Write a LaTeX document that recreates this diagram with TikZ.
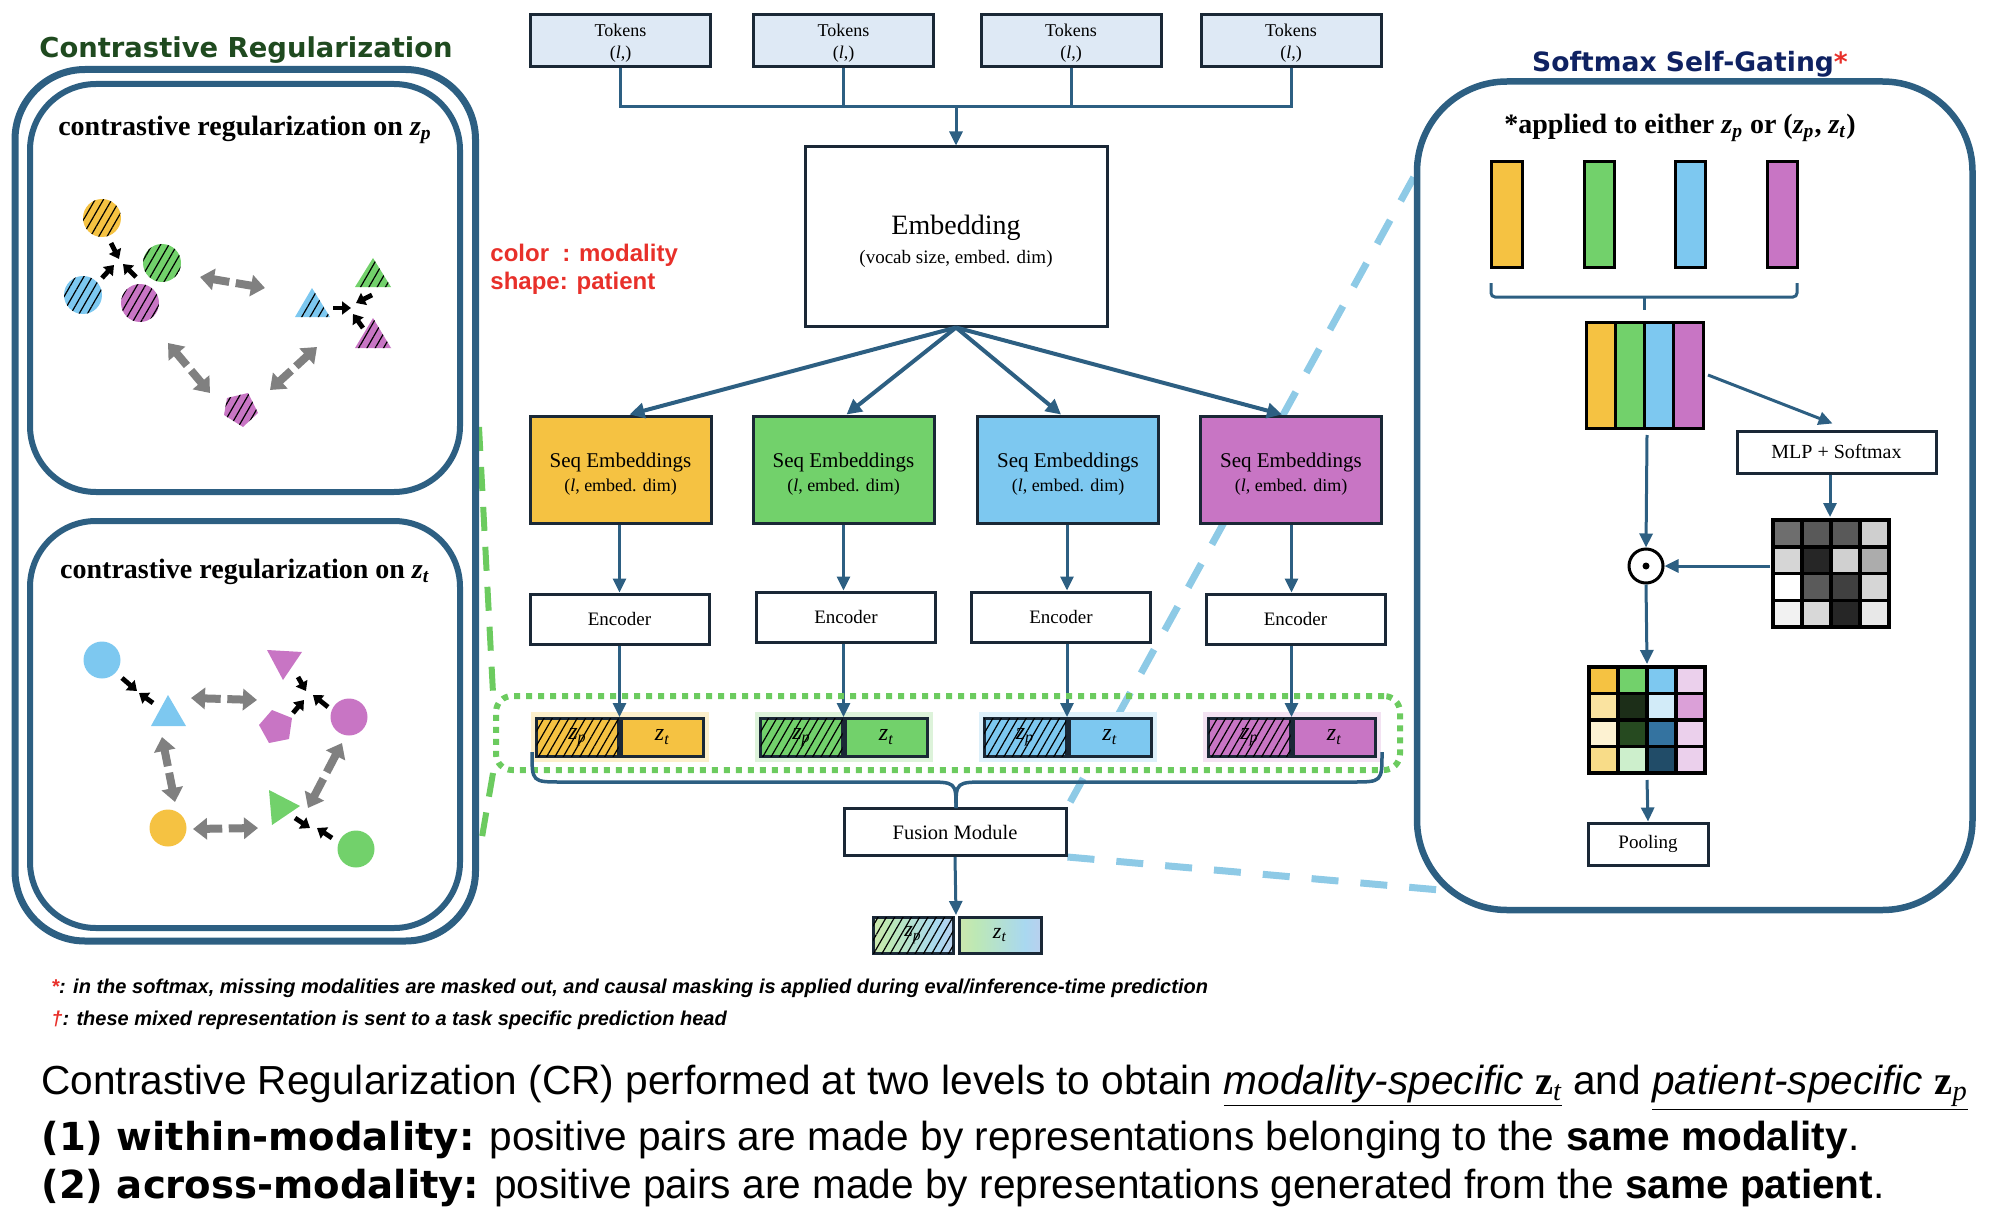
\documentclass[tikz,border=0pt]{standalone}
\usepackage{fontspec}
\usepackage{graphicx}
\setmainfont{Liberation Serif}
\newfontfamily\arialf{Liberation Sans}
\newfontfamily\dejavu{DejaVu Sans}
\usetikzlibrary{arrows.meta,patterns.meta,calc}
\definecolor{cOr}{HTML}{F5C242}
\definecolor{cGr}{HTML}{72D16B}
\definecolor{cBl}{HTML}{7DC8F0}
\definecolor{cPu}{HTML}{C875C4}
\definecolor{lineblue}{HTML}{2D5F82}
\definecolor{boxdark}{HTML}{1A2836}
\definecolor{tokfill}{HTML}{DEE9F5}
\definecolor{titlegreen}{HTML}{1F4A1F}
\definecolor{titlenavy}{HTML}{0F2262}
\definecolor{redlab}{HTML}{E8302A}
\definecolor{dashblue}{HTML}{8ECAE6}
\definecolor{dashgreen}{HTML}{6CCB5F}
\definecolor{arrgray}{HTML}{808080}
\definecolor{haloOr}{HTML}{FCEFCB}
\definecolor{haloGr}{HTML}{DDF3DA}
\definecolor{haloBl}{HTML}{DDF0FA}
\definecolor{haloPu}{HTML}{F3E2F2}
\definecolor{pY}{HTML}{F2E39A}
\definecolor{pG}{HTML}{BDE8B5}
\definecolor{pB}{HTML}{A9D8F0}
\definecolor{pP}{HTML}{E2BCE8}
\pgfdeclarehorizontalshading{rainbowS}{100bp}{color(0bp)=(pY); color(35bp)=(pG); color(65bp)=(pB); color(100bp)=(pP)}
\pgfdeclarelayer{bg}
\pgfsetlayers{bg,main}
\newcommand{\zsub}[1]{\textit{z}\textsubscript{\textit{#1}}}
\newcommand{\heavy}[1]{{\dejavu\bfseries\fontsize{19.3}{20}\selectfont #1}}
\newcommand{\zbold}[1]{{\rmfamily\bfseries z}\textsubscript{\rmfamily\itshape #1}}
\begin{document}
\begin{tikzpicture}[x=0.5pt,y=-0.5pt,
  lb/.style={draw=lineblue, line width=1.5pt},
  arr/.style={lb, -{Triangle[length=7pt,width=6.5pt]}},
  barr/.style={draw=lineblue, line width=2pt, -{Triangle[length=7.5pt,width=7.5pt]}},
  kar/.style={draw=black, line width=2.4pt, -{Triangle[length=4.5pt,width=6.5pt]}},
  gar/.style={draw=arrgray, line width=4pt, -{Triangle[length=7pt,width=10.5pt]}},
  hatch/.style={postaction={pattern={Lines[angle=60,distance=3.6pt,line width=0.6pt]}, pattern color=black}},
  plainbox/.style={draw=boxdark, line width=1.5pt, fill=white, inner sep=0pt, align=center},
  tokbox/.style={plainbox, fill=tokfill, minimum width=90pt, minimum height=26pt, font=\fontsize{9}{11}\selectfont},
  seqbox/.style={plainbox, minimum width=90.5pt, minimum height=53.5pt, font=\fontsize{10.5}{12}\selectfont},
  encbox/.style={plainbox, minimum width=89.5pt, minimum height=25pt, font=\fontsize{9.5}{11}\selectfont},
  zbox/.style={draw=boxdark, line width=1.5pt, minimum width=41pt, minimum height=19pt, inner sep=0pt, font=\fontsize{12}{12}\selectfont},
  bar/.style={draw=black, line width=1.5pt},
  panelbox/.style={draw=lineblue, inner sep=0pt}
]
\useasboundingbox (0,0) rectangle (1996,1214);

% ================= LEFT PANEL =================
\node[font=\dejavu\bfseries\fontsize{13.7}{13.7}\selectfont, text=titlegreen] (crtitle) at (246,50) {Contrastive Regularization};
\node[panelbox, line width=3.5pt, rounded corners=35pt, minimum width=230.25pt, minimum height=435.75pt] (louter) at (245.25,505.25) {};
\node[panelbox, line width=3pt, rounded corners=33pt, minimum width=215pt, minimum height=204pt] (lin1) at (245,288) {};
\node[panelbox, line width=3pt, rounded corners=33pt, minimum width=215pt, minimum height=203.5pt] (lin2) at (245,724.5) {};
\node[font=\bfseries\fontsize{14}{14}\selectfont] (h1) at (245,130) {contrastive regularization on \zsub{p}};
\node[font=\bfseries\fontsize{14}{14}\selectfont] (h2) at (245,572) {contrastive regularization on \zsub{t}};

% panel 1 shapes (hatched)
\fill[cOr, hatch] (102,218) circle (19);
\fill[cGr, hatch] (162,263) circle (19);
\fill[cBl, hatch] (83,295) circle (19);
\fill[cPu, hatch] (140,303) circle (19);
\fill[cBl, hatch] (295,317) -- (330,317) -- (312,288) -- cycle;
\fill[cGr, hatch] (355,287) -- (391,287) -- (373,258) -- cycle;
\fill[cPu, hatch] (355,348) -- (391,348) -- (373,318) -- cycle;
\fill[cPu, hatch] (227,398) -- (248,393) -- (258,413) -- (243,427) -- (224,415) -- cycle;
\draw[kar] (111,243) -- (119,259);
\draw[kar] (102,278) -- (114,265);
\draw[kar] (136,277) -- (123,264);
\draw[kar] (333,308) -- (351,308);
\draw[kar] (372,295) -- (356,303);
\draw[kar] (363,328) -- (353,314);
\newcommand{\gdbl}[2]{\draw[gar] ($(#1)!0.45!(#2)$) -- (#1); \draw[gar] ($(#1)!0.55!(#2)$) -- (#2);}
\gdbl{200,277}{265,288}
\gdbl{168,343}{210,393}
\gdbl{270,390}{317,347}

% panel 2 shapes
\fill[cBl] (102,660) circle (18.5);
\fill[cBl] (168,695) -- (151,726) -- (186,726) -- cycle;
\fill[cPu] (267,650) -- (302,652) -- (283,680) -- cycle;
\fill[cPu] (272,710) -- (292,718) -- (289,739) -- (269,743) -- (259,725) -- cycle;
\fill[cPu] (349,717) circle (18.5);
\fill[cOr] (168,828) circle (18.5);
\fill[cGr] (269,790) -- (272,825) -- (300,806) -- cycle;
\fill[cGr] (356,849) circle (18.5);
\draw[kar] (122,678) -- (137,691);
\draw[kar] (153,703) -- (139,693);
\draw[kar] (298,677) -- (306,691);
\draw[kar] (293,713) -- (304,700);
\draw[kar] (328,707) -- (313,695);
\draw[kar] (295,818) -- (310,828);
\draw[kar] (332,838) -- (317,828);
\gdbl{191,698}{257,700}
\gdbl{162,737}{175,802}
\gdbl{193,829}{258,828}
\gdbl{342,743}{308,808}

% red legend
\node[anchor=base west, inner sep=0pt, font=\arialf\bfseries\fontsize{12}{12}\selectfont, text=redlab] (leg1) at (490,262) {color\hspace{0.55em}: modality};
\node[anchor=base west, inner sep=0pt, font=\arialf\bfseries\fontsize{12}{12}\selectfont, text=redlab] (leg2) at (490,290) {shape: patient};

% ================= CENTER =================
\node[tokbox] (tok1) at (620.5,40.5) {\rule{0pt}{8.6pt}Tokens\\(\textit{l},)};
\node[tokbox] (tok2) at (843.5,40.5) {\rule{0pt}{8.6pt}Tokens\\(\textit{l},)};
\node[tokbox] (tok3) at (1071,40.5) {\rule{0pt}{8.6pt}Tokens\\(\textit{l},)};
\node[tokbox] (tok4) at (1291,40.5) {\rule{0pt}{8.6pt}Tokens\\(\textit{l},)};
\coordinate (jn) at (956,107);
\node[plainbox, minimum width=151pt, minimum height=89.5pt, font=\fontsize{14}{14.5}\selectfont] (emb) at (956,236.5) {\rule{0pt}{14.5pt}Embedding\\{\fontsize{9.5}{14.5}\selectfont (vocab size, embed. dim)}};
\foreach \t in {tok1,tok2,tok3,tok4} \draw[lb] (\t.south) |- (jn);
\draw[arr] (jn) -- (emb.north);

\node[seqbox, fill=cOr] (seq1) at (620.5,469.5) {\rule{0pt}{12pt}Seq Embeddings\\{\fontsize{9}{12}\selectfont (\textit{l}, embed. dim)}};
\node[seqbox, fill=cGr] (seq2) at (843.5,469.5) {\rule{0pt}{12pt}Seq Embeddings\\{\fontsize{9}{12}\selectfont (\textit{l}, embed. dim)}};
\node[seqbox, fill=cBl] (seq3) at (1068,469.5) {\rule{0pt}{12pt}Seq Embeddings\\{\fontsize{9}{12}\selectfont (\textit{l}, embed. dim)}};
\node[seqbox, fill=cPu] (seq4) at (1291,469.5) {\rule{0pt}{12pt}Seq Embeddings\\{\fontsize{9}{12}\selectfont (\textit{l}, embed. dim)}};
\draw[barr] (emb.south) -- ($(seq1.north)+(9,0)$);
\draw[barr] (emb.south) -- ($(seq2.north)+(3,0)$);
\draw[barr] (emb.south) -- ($(seq3.north)+(-7,0)$);
\draw[barr] (emb.south) -- ($(seq4.north)+(-9,0)$);

\node[encbox] (enc1) at (619.5,619) {Encoder};
\node[encbox] (enc2) at (846,617) {Encoder};
\node[encbox] (enc3) at (1061,617) {Encoder};
\node[encbox] (enc4) at (1295.5,619) {Encoder};

\coordinate (zj1) at (619.5,717);
\coordinate (zj2) at (843.5,717);
\coordinate (zj3) at (1067,717);
\coordinate (zj4) at (1291.5,717);

% halos
\fill[haloOr] (531,712) rectangle (709,762);
\fill[haloGr] (755,712) rectangle (933,762);
\fill[haloBl] (979,712) rectangle (1157,762);
\fill[haloPu] (1203,712) rectangle (1381,762);

\node[zbox, fill=cOr, hatch] (zp1) at (577.5,737) {\zsub{p}};
\node[zbox, fill=cOr] (zt1) at (662.5,737) {\zsub{t}};
\node[zbox, fill=cGr, hatch] (zp2) at (801.5,737) {\zsub{p}};
\node[zbox, fill=cGr] (zt2) at (886.5,737) {\zsub{t}};
\node[zbox, fill=cBl, hatch] (zp3) at (1025,737) {\zsub{p}};
\node[zbox, fill=cBl] (zt3) at (1110,737) {\zsub{t}};
\node[zbox, fill=cPu, hatch] (zp4) at (1249.5,737) {\zsub{p}};
\node[zbox, fill=cPu] (zt4) at (1334.5,737) {\zsub{t}};

\foreach \i in {1,2,3,4} {
  \draw[arr] (seq\i.south -| zj\i) -- (enc\i.north -| zj\i);
  \draw[arr] (enc\i.south -| zj\i) -- (zj\i);
}

\node[draw=dashgreen, line width=3pt, dash pattern=on 3pt off 3pt, rounded corners=8pt, minimum width=452pt, minimum height=37pt, inner sep=0pt] (zgroup) at (948,733) {};

\node[plainbox, minimum width=111pt, minimum height=23.5pt, font=\fontsize{10.25}{12}\selectfont] (fus) at (955,832) {Fusion Module};
\draw[draw=lineblue, line width=1.75pt] (532,752) .. controls (532,782) .. (562,782) -- (924,782) .. controls (956,782) .. (956,808);
\draw[draw=lineblue, line width=1.75pt] (1382,752) .. controls (1382,782) .. (1352,782) -- (988,782) .. controls (956,782) .. (956,808);

\node[zbox, shading=rainbowS, hatch, minimum width=40pt, minimum height=18pt, font=\fontsize{11}{11}\selectfont] (zpf) at (913,935) {\zsub{p}};
\node[zbox, shading=rainbowS, minimum width=41pt, minimum height=18pt, font=\fontsize{11}{11}\selectfont] (ztf) at (1000,935) {\zsub{t}};
\coordinate (fj) at (956,915);
\draw[arr] (fus.south) -- (fj);

% ================= RIGHT PANEL =================
\node[font=\dejavu\bfseries\fontsize{13.3}{13.3}\selectfont, text=titlenavy] (sgtitle) at (1690,64) {Softmax Self-Gating\textcolor{redlab}{*}};
\node[panelbox, line width=3.25pt, rounded corners=45pt, minimum width=277.75pt, minimum height=414.25pt] (rbox) at (1694.75,495.75) {};
\node[font=\bfseries\fontsize{14}{14}\selectfont] (h3) at (1680,128) {*applied to either \zsub{p} or (\zsub{p}, \zsub{t})};

\filldraw[bar, fill=cOr] (1491,162) rectangle (1522,268);
\filldraw[bar, fill=cGr] (1584,162) rectangle (1614,268);
\filldraw[bar, fill=cBl] (1675,162) rectangle (1705,268);
\filldraw[bar, fill=cPu] (1767,162) rectangle (1797,268);
\draw[lb, rounded corners=2pt] (1491,283) -- (1491,297) -- (1797,297) -- (1797,283);
\draw[lb] (1644,297) -- (1644,310);

\filldraw[bar, fill=cOr] (1586,322) rectangle (1615.25,428);
\filldraw[bar, fill=cGr] (1615.25,322) rectangle (1644.5,428);
\filldraw[bar, fill=cBl] (1644.5,322) rectangle (1673.75,428);
\filldraw[bar, fill=cPu] (1673.75,322) rectangle (1703,428);
\coordinate (stk) at (1647,435);
\coordinate (stkr) at (1708,375);

\node[plainbox, minimum width=99.5pt, minimum height=21pt, font=\fontsize{10}{12}\selectfont] (mlp) at (1836.5,452) {MLP + Softmax};
\draw[arr] (stkr) -- ($(mlp.north)+(-4,-6)$);

\node[circle, draw=black, line width=1.5pt, minimum size=17pt, inner sep=0pt] (odot) at (1646,566) {};
\fill (odot.center) circle (3.5);
\draw[arr] (stk) -- (odot.north);

% gray matrix
\foreach \c [count=\k from 0] in {6E6E6E,595959,595959,CFCFCF,D6D6D6,262626,D0D0D0,ACACAC,FFFFFF,5A5A5A,404040,D6D6D6,F2F2F2,D8D8D8,262626,E8E8E8} {
  \pgfmathtruncatemacro{\ri}{\k/4}
  \pgfmathtruncatemacro{\ci}{mod(\k,4)}
  \definecolor{tmpc}{HTML}{\c}
  \filldraw[fill=tmpc, draw=black, line width=1.75pt] (1773+29*\ci,520+26.75*\ri) rectangle ++(29,26.75);
}
\coordinate (gm) at (1770,566);
\coordinate (gmtop) at (1830,517);
\draw[arr] (mlp.south -| gmtop) -- (gmtop);
\draw[arr] (gm) -- (odot.east);

% colored matrix
\foreach \c [count=\k from 0] in {F5C242,72D16B,7DC8F0,EBD0EC,FAE3A0,1C2E18,D2EBF8,DBA0D8,FDF2D2,264A20,3473A0,EBD0EC,F8DC88,CDEFCC,214C68,EBD0EC} {
  \pgfmathtruncatemacro{\ri}{\k/4}
  \pgfmathtruncatemacro{\ci}{mod(\k,4)}
  \definecolor{tmpc}{HTML}{\c}
  \filldraw[fill=tmpc, draw=black, line width=1.75pt] (1589+29*\ci,667+26.5*\ri) rectangle ++(29,26.5);
}
\coordinate (cmtop) at (1647,664);
\coordinate (cmbot) at (1647,780);
\draw[arr] (odot.south) -- (cmtop);
\node[plainbox, minimum width=60pt, minimum height=21pt, font=\fontsize{9.5}{11}\selectfont] (pool) at (1648,844) {Pooling};
\draw[arr] (cmbot) -- (pool.north);

% ================= BACKGROUND DASHED LINES =================
\begin{pgfonlayer}{bg}
\draw[dashgreen, line width=3pt, dash pattern=on 12pt off 8pt] (479,427) -- (zgroup.north west);
\draw[dashgreen, line width=3pt, dash pattern=on 12pt off 8pt] (zgroup.south west) -- (481,843);
\draw[dashblue, line width=3.5pt, dash pattern=on 13.5pt off 11pt] ($(rbox.north west)+(0,99)$) -- (fus.north east);
\draw[dashblue, line width=3.5pt, dash pattern=on 13.5pt off 11pt] (fus.south east) -- (1440,890);
\end{pgfonlayer}

% ================= FOOTNOTES =================
\node[anchor=base west, inner sep=0pt, font=\arialf\bfseries\itshape\fontsize{10}{10}\selectfont] (fn1) at (51,993) {\textcolor{redlab}{*}: in the softmax, missing modalities are masked out, and causal masking is applied during eval/inference-time prediction};
\node[anchor=base west, inner sep=0pt, font=\arialf\bfseries\itshape\fontsize{10}{10}\selectfont] (fn2) at (51,1025) {\textcolor{redlab}{\dag}: these mixed representation is sent to a task specific prediction head};

\node[anchor=base west, inner sep=0pt, font=\arialf\fontsize{20.3}{20.3}\selectfont] (b1) at (41,1094) {Contrastive Regularization (CR) performed at two levels to obtain \underline{\textit{modality-specific} \zbold{t}} and \underline{\textit{patient-specific} \zbold{p}}};
\node[anchor=base west, inner sep=0pt, font=\arialf\fontsize{20.3}{20.3}\selectfont] (b2) at (41,1150) {\heavy{(1) within-modality:} positive pairs are made by representations belonging to the \textbf{same modality}.};
\node[anchor=base west, inner sep=0pt, font=\arialf\fontsize{20.3}{20.3}\selectfont] (b3) at (41,1198) {\heavy{(2) across-modality:} positive pairs are made by representations generated from the \textbf{same patient}.};
\end{tikzpicture}
\end{document}
